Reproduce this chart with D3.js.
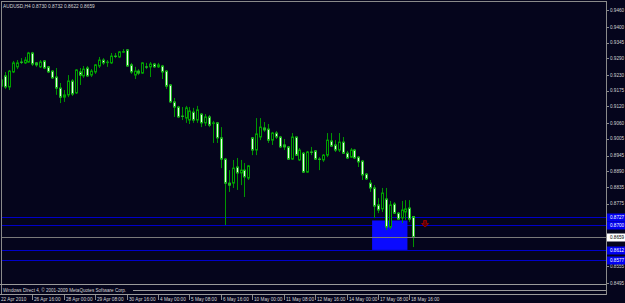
<!DOCTYPE html>
<html><head><meta charset="utf-8">
<script src="https://cdn.jsdelivr.net/npm/d3@7"></script>
<style>html,body{margin:0;padding:0;background:#05051c;overflow:hidden}</style>
</head><body><svg id="c" width="625" height="303"></svg>
<script>
// ---- data ----
const opens = [.9191,.9227,.9188,.9241,.9259,.9276,.9273,.9276,.9308,.9273,
.9259,.9280,.9259,.9244,.9223,.9184,.9152,.9160,.9209,.9167,
.9241,.9227,.9255,.9230,.9241,.9262,.9283,.9274,.9273,.9297,
.9294,.9311,.9319,.9266,.9230,.9244,.9237,.9259,.9259,.9269,
.9259,.9262,.9244,.9195,.9135,.9117,.9085,.9078,.9071,.9099,
.9071,.9092,.9061,.9082,.9059,.9061,.9008,.8933,.8848,.8848,
.8905,.8884,.8894,.8866,.9008,.8965,.9011,.9043,.9039,.9000,
.9025,.9011,.8983,.8976,.8933,.9011,.8930,.8954,.8887,.8958,
.8962,.8933,.8930,.8947,.8997,.8983,.8965,.8993,.8954,.8940,
.8965,.8940,.8926,.8880,.8848,.8831,.8771,.8757,.8792,.8693,
.8774,.8742,.8725,.8746,.8760,.8730];
const highs = [.9227,.9241,.9248,.9280,.9283,.9290,.9294,.9312,.9312,.9276,
.9283,.9283,.9262,.9248,.9255,.9202,.9177,.9230,.9216,.9251,
.9255,.9262,.9262,.9251,.9269,.9294,.9290,.9283,.9308,.9308,
.9315,.9322,.9322,.9273,.9259,.9251,.9276,.9273,.9276,.9273,
.9273,.9266,.9248,.9198,.9149,.9121,.9117,.9121,.9117,.9114,
.9121,.9096,.9092,.9089,.9068,.9064,.9046,.8937,.8894,.8930,
.8937,.8930,.8919,.8912,.9011,.9078,.9078,.9064,.9057,.9029,
.9032,.9015,.9004,.8979,.9025,.9013,.8972,.8958,.8962,.8976,
.8965,.8940,.8951,.9025,.9025,.9000,.9025,.9011,.8962,.8972,
.8969,.8944,.8930,.8884,.8859,.8841,.8795,.8831,.8831,.8785,
.8781,.8746,.8785,.8788,.8788,.8732];
const lows = [.9177,.9181,.9177,.9237,.9251,.9269,.9269,.9273,.9262,.9259,
.9255,.9251,.9237,.9216,.9160,.9131,.9135,.9152,.9156,.9163,
.9195,.9220,.9223,.9223,.9234,.9255,.9266,.9259,.9269,.9290,
.9290,.9308,.9259,.9234,.9216,.9230,.9234,.9251,.9223,.9255,
.9255,.9216,.9181,.9131,.9082,.9078,.9071,.9061,.9057,.9061,
.9061,.9046,.9050,.9046,.8990,.8990,.8901,.8700,.8817,.8831,
.8824,.8841,.8799,.8859,.8947,.8947,.9000,.9029,.8990,.8983,
.9004,.8972,.8965,.8930,.8930,.8944,.8926,.8884,.8884,.8947,
.8930,.8894,.8923,.8940,.8976,.8958,.8958,.8951,.8933,.8937,
.8933,.8905,.8859,.8859,.8817,.8725,.8742,.8746,.8682,.8686,
.8739,.8718,.8707,.8718,.8711,.8622];
const closes = [.9213,.9188,.9244,.9273,.9273,.9275,.9283,.9308,.9269,.9266,
.9276,.9255,.9241,.9220,.9184,.9152,.9160,.9209,.9163,.9248,
.9230,.9251,.9227,.9244,.9266,.9283,.9273,.9276,.9297,.9296,
.9312,.9313,.9262,.9241,.9244,.9237,.9273,.9258,.9269,.9259,
.9266,.9241,.9191,.9135,.9117,.9082,.9084,.9114,.9103,.9071,
.9107,.9061,.9082,.9053,.9061,.9008,.8933,.8848,.8841,.8901,
.8884,.8894,.8870,.8909,.8965,.9022,.9046,.9036,.9000,.9025,
.9011,.8976,.8976,.8933,.9011,.8947,.8965,.8887,.8958,.8957,
.8933,.8932,.8947,.9000,.8979,.8965,.8993,.8954,.8937,.8965,
.8937,.8923,.8877,.8863,.8831,.8767,.8753,.8813,.8693,.8771,
.8742,.8721,.8753,.8757,.8721,.8659];
const dateTickIdx = [0,8,16,24,32,40,48,56,64,72,80,88,96,104];
const dateTickLabels = ["22 Apr 2010","26 Apr 16:00","28 Apr 00:00","29 Apr 08:00","30 Apr 16:00","4 May 00:00","5 May 08:00","6 May 16:00","10 May 00:00","11 May 08:00","12 May 16:00","14 May 00:00","17 May 08:00","18 May 16:00"];
const priceTicks = [0.9460,0.9400,0.9345,0.9290,0.9230,0.9175,0.9120,0.9060,0.9005,0.8945,0.8890,0.8835,0.8775,0.8555,0.8495];
const hLines = [0.8727,0.8700,0.8612,0.8577];
const bidPrice = 0.8659;
const boxIdx = [94.5,103.5], boxPrice = [0.8716,0.8612];
const arrowIdx = 108, arrowPrice = 0.8705;
const header = "AUDUSD,H4  0.8730 0.8732 0.8622 0.8659";
const footer = "Windows Direct 4, \u00a9 2001-2009 MetaQuotes Software Corp.";

// ---- drawing ----
const W=625,H=303, right=606, bottom=294;
const BG="#05051c", FG="#d4d4d4", GRID="#8a8a8a";
const svg=d3.select("#c");
svg.append("rect").attr("width",W).attr("height",H).attr("fill",BG);
const x=d3.scaleLinear().domain([0,105]).range([1.0,1.0+105*3.927]);
const y=d3.scaleLinear().domain([0.9460,0.8495]).range([10,283]);
const font="Liberation Sans, Arial, sans-serif";

svg.append("clipPath").attr("id","cp").append("rect").attr("x",1.5).attr("y",1.5).attr("width",right-1.5).attr("height",283);
const g=svg.append("g").attr("clip-path","url(#cp)");

// horizontal lines
g.selectAll(".hl").data(hLines).join("line")
 .attr("x1",0).attr("x2",right).attr("y1",d=>Math.round(y(d))+0.5).attr("y2",d=>Math.round(y(d))+0.5)
 .attr("stroke","#0000c8").attr("stroke-width",1);
// box
g.append("rect").attr("x",x(boxIdx[0])).attr("width",x(boxIdx[1])-x(boxIdx[0]))
 .attr("y",y(boxPrice[0])).attr("height",y(boxPrice[1])-y(boxPrice[0])).attr("fill","#0a0aff");

// candles
const idx=d3.range(opens.length);
const cx=i=>Math.round(x(i));
g.selectAll(".wk").data(idx).join("line")
 .attr("x1",i=>cx(i)+0.5).attr("x2",i=>cx(i)+0.5)
 .attr("y1",i=>y(highs[i])).attr("y2",i=>y(lows[i]))
 .attr("stroke","#009600").attr("stroke-width",1);
g.selectAll(".bd").data(idx).join("rect")
 .attr("x",i=>cx(i)-0.5).attr("width",2)
 .attr("y",i=>y(Math.max(opens[i],closes[i])))
 .attr("height",i=>Math.max(0.01,Math.abs(y(opens[i])-y(closes[i]))))
 .attr("fill",i=>closes[i]<opens[i]?"#eafbea":BG)
 .attr("stroke",i=>closes[i]<opens[i]?"#20b820":"#00a000").attr("stroke-width",1);

// bid line
g.append("line").attr("x1",0).attr("x2",right).attr("y1",Math.round(y(bidPrice))+0.5).attr("y2",Math.round(y(bidPrice))+0.5)
 .attr("stroke","#7a7a7a");

// arrow
const ax=x(arrowIdx), ay=y(arrowPrice);
g.append("path").attr("d",`M${ax-1.5},${ay-3} h3 v3 h2 l-3.5,3.5 l-3.5,-3.5 h2 z`)
 .attr("fill","#600000").attr("stroke","#b00000").attr("stroke-width",0.8);

// frame
svg.append("line").attr("x1",1.5).attr("x2",1.5).attr("y1",1).attr("y2",bottom).attr("stroke",GRID);
svg.append("line").attr("x1",1).attr("x2",right).attr("y1",1.5).attr("y2",1.5).attr("stroke",GRID);
svg.append("line").attr("x1",right+0.5).attr("x2",right+0.5).attr("y1",1).attr("y2",bottom+1).attr("stroke",GRID);
svg.append("line").attr("x1",0).attr("x2",right).attr("y1",284.5).attr("y2",284.5).attr("stroke","#9a9a9a");
svg.append("line").attr("x1",133).attr("x2",right).attr("y1",290.5).attr("y2",290.5).attr("stroke","#9a9a9a");
svg.append("line").attr("x1",0).attr("x2",right).attr("y1",bottom+0.5).attr("y2",bottom+0.5).attr("stroke","#9a9a9a");

// header & footer text
svg.append("text").attr("x",3).attr("y",7.5).attr("fill",FG).attr("font-family",font).attr("font-size",4.8).text(header);
svg.append("text").attr("x",3).attr("y",292).attr("fill",FG).attr("font-family",font).attr("font-size",4.6).text(footer);

// price axis
const pa=svg.append("g");
pa.selectAll("line").data(priceTicks).join("line")
 .attr("x1",right).attr("x2",right+3).attr("y1",d=>Math.round(y(d))+0.5).attr("y2",d=>Math.round(y(d))+0.5).attr("stroke",GRID);
pa.selectAll("text").data(priceTicks).join("text")
 .attr("x",610).attr("y",d=>y(d)+1.7).attr("fill",FG).attr("font-family",font).attr("font-size",4.6)
 .text(d=>d3.format(".4f")(d));
// coloured labels
const lab=svg.append("g");
const labs=hLines.map(v=>({v,bg:"#0000f0",fg:"#ffffff"})).concat([{v:bidPrice,bg:"#ffffff",fg:"#000000"}]);
lab.selectAll("rect").data(labs).join("rect")
 .attr("x",607).attr("width",18).attr("y",d=>Math.round(y(d.v))-3.5).attr("height",8).attr("fill",d=>d.bg);
lab.selectAll("text").data(labs).join("text")
 .attr("x",610).attr("y",d=>y(d.v)+1.9).attr("fill",d=>d.fg).attr("font-family",font).attr("font-size",4.6)
 .text(d=>d3.format(".4f")(d.v));

// date axis
const da=svg.append("g");
da.selectAll("line").data(dateTickIdx.slice(1)).join("line")
 .attr("x1",i=>cx(i)+0.5).attr("x2",i=>cx(i)+0.5).attr("y1",bottom+1).attr("y2",bottom+6).attr("stroke",GRID);
da.selectAll("text").data(dateTickIdx).join("text")
 .attr("x",(i,k)=>k===0?1:cx(i)+2).attr("y",300.5).attr("fill",FG).attr("font-family",font).attr("font-size",4.7)
 .text((i,k)=>dateTickLabels[k]);
</script></body></html>
